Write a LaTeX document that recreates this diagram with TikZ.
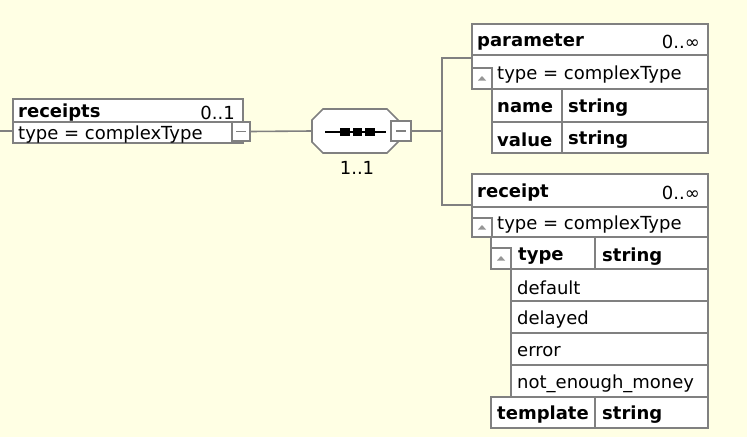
\documentclass[tikz,border=0pt]{standalone}
\usepackage{fontspec}
\setmainfont{DejaVu Sans}
\usetikzlibrary{calc}
\definecolor{bg}{RGB}{255,255,228}
\definecolor{gbord}{RGB}{128,128,128}
\definecolor{gtri}{RGB}{150,150,150}
\newcommand{\fs}{\fontsize{18}{21}\selectfont}
\begin{document}
\begin{tikzpicture}[x=1pt,y=-1pt,
  bx/.style={draw=gbord, fill=white, line width=1.6pt, inner sep=0pt, outer sep=0pt, anchor=north west},
  conn/.style={draw=gbord, line width=1.6pt},
  lbl/.style={inner sep=0pt, anchor=west, font=\fs, yshift=-2pt},
  blbl/.style={inner sep=0pt, anchor=west, font=\fs\bfseries, yshift=-2pt},
  rlbl/.style={inner sep=0pt, anchor=east, font=\fs, yshift=-2pt},
  minusbox/.style={bx, minimum width=18pt, minimum height=19pt},
  tribox/.style={bx, minimum width=20pt, minimum height=20pt}]
\fill[bg] (0,0) rectangle (747,437);
\useasboundingbox (0,0) rectangle (747,437);
% coordinates for connectors
\coordinate (lstart) at (0,131);
\coordinate (branch) at (442,131);
\coordinate (pj) at (472,58);
\coordinate (ej) at (472,205);
% receipts
\node[bx, minimum width=230pt, minimum height=23pt] (rch) at (13,99) {};
\node[bx, minimum width=230pt, minimum height=21pt] (rct) at (13,122) {};
\node[blbl] (rcn) at (18,111) {receipts};
\node[rlbl] (rcm) at (235,110.5) {0..1};
\node[lbl] (rctt) at (18,133) {type = complexType};
\node[minusbox] (rmin) at (232,122) {};
% sequence
\node[inner sep=0pt, outer sep=0pt, minimum width=86pt, minimum height=44pt] (seq) at (355,131) {};
\node[inner sep=0pt, font=\fs, yshift=-2pt] (seqm) at (357,166) {1..1};
% connectors
\draw[conn] (lstart) -- (lstart -| rct.west);
\draw[conn] (rmin.east) -- (seq.west);
% octagon
\draw[draw=gbord, fill=white, line width=1.6pt]
  (323,109) -- (387,109) -- (398,120) -- (398,142) -- (387,153) -- (323,153) -- (312,142) -- (312,120) -- cycle;
\draw[line width=1.6pt] (325,132) -- (386,132);
\fill (340,128) rectangle (350,135.5);
\fill (352.5,128) rectangle (362,135.5);
\fill (365,128) rectangle (375,135.5);
\node[minusbox, minimum width=20pt, minimum height=20pt] (smin) at (391,121) {};
\draw[conn] (smin.east) -- (branch);
\draw[conn] (pj) -| (branch) |- (ej);
\draw[gbord, line width=1.2pt] ($(rmin.center)+(-5,0)$) -- ($(rmin.center)+(5,0)$);
\draw[gbord, line width=1.2pt] ($(smin.center)+(-5,0)$) -- ($(smin.center)+(5,0)$);
% parameter
\node[bx, minimum width=236pt, minimum height=31pt] (ph) at (472,24) {};
\node[bx, minimum width=236pt, minimum height=34pt] (pt) at (472,55) {};
\node[tribox, minimum height=21pt] (ptri) at (472,68) {};
\node[bx, minimum width=70pt, minimum height=33pt] (pn1) at (492,89) {};
\node[bx, minimum width=146pt, minimum height=33pt] (pn2) at (562,89) {};
\node[bx, minimum width=70pt, minimum height=31pt] (pv1) at (492,122) {};
\node[bx, minimum width=146pt, minimum height=31pt] (pv2) at (562,122) {};
\node[blbl] (phn) at (477,40) {parameter};
\node[rlbl] (phm) at (700,40) {0..∞};
\node[lbl] (ptt) at (497,73) {type = complexType};
\node[blbl] (pn1t) at (497,106) {name};
\node[blbl] (pn2t) at (568,106) {string};
\node[blbl] (pv1t) at (497,138) {value};
\node[blbl] (pv2t) at (568,138) {string};
% receipt
\node[bx, minimum width=236pt, minimum height=33pt] (eh) at (472,174) {};
\node[bx, minimum width=236pt, minimum height=30pt] (et) at (472,207) {};
\node[tribox, minimum height=19pt] (etri) at (472,218) {};
\node[bx, minimum width=104pt, minimum height=32pt] (ey1) at (491,237) {};
\node[bx, minimum width=113pt, minimum height=32pt] (ey2) at (595,237) {};
\node[tribox, minimum height=21pt] (eytri) at (491,248) {};
\node[bx, minimum width=197pt, minimum height=32pt] (en1) at (511,269) {};
\node[bx, minimum width=197pt, minimum height=32pt] (en2) at (511,301) {};
\node[bx, minimum width=197pt, minimum height=32pt] (en3) at (511,333) {};
\node[bx, minimum width=197pt, minimum height=32pt] (en4) at (511,365) {};
\node[bx, minimum width=104pt, minimum height=31pt] (tm1) at (491,397) {};
\node[bx, minimum width=113pt, minimum height=31pt] (tm2) at (595,397) {};
\node[blbl] (ehn) at (477,191) {receipt};
\node[rlbl] (ehm) at (700,191) {0..∞};
\node[lbl] (ett) at (497,223) {type = complexType};
\node[blbl] (ey1t) at (518,254.5) {type};
\node[blbl] (ey2t) at (602,254.5) {string};
\node[lbl] (en1t) at (517,285.5) {default};
\node[lbl] (en2t) at (517,317.5) {delayed};
\node[lbl] (en3t) at (517,349.5) {error};
\node[lbl] (en4t) at (517,381.5) {not\_enough\_money};
\node[blbl] (tm1t) at (497,413) {template};
\node[blbl] (tm2t) at (602,413) {string};
% triangles
\foreach \t in {ptri, etri, eytri} {
  \fill[gtri] ($(\t.center)+(-4,2)$) -- ($(\t.center)+(4,2)$) -- ($(\t.center)+(0,-2.5)$) -- cycle;
}
\end{tikzpicture}
\end{document}
